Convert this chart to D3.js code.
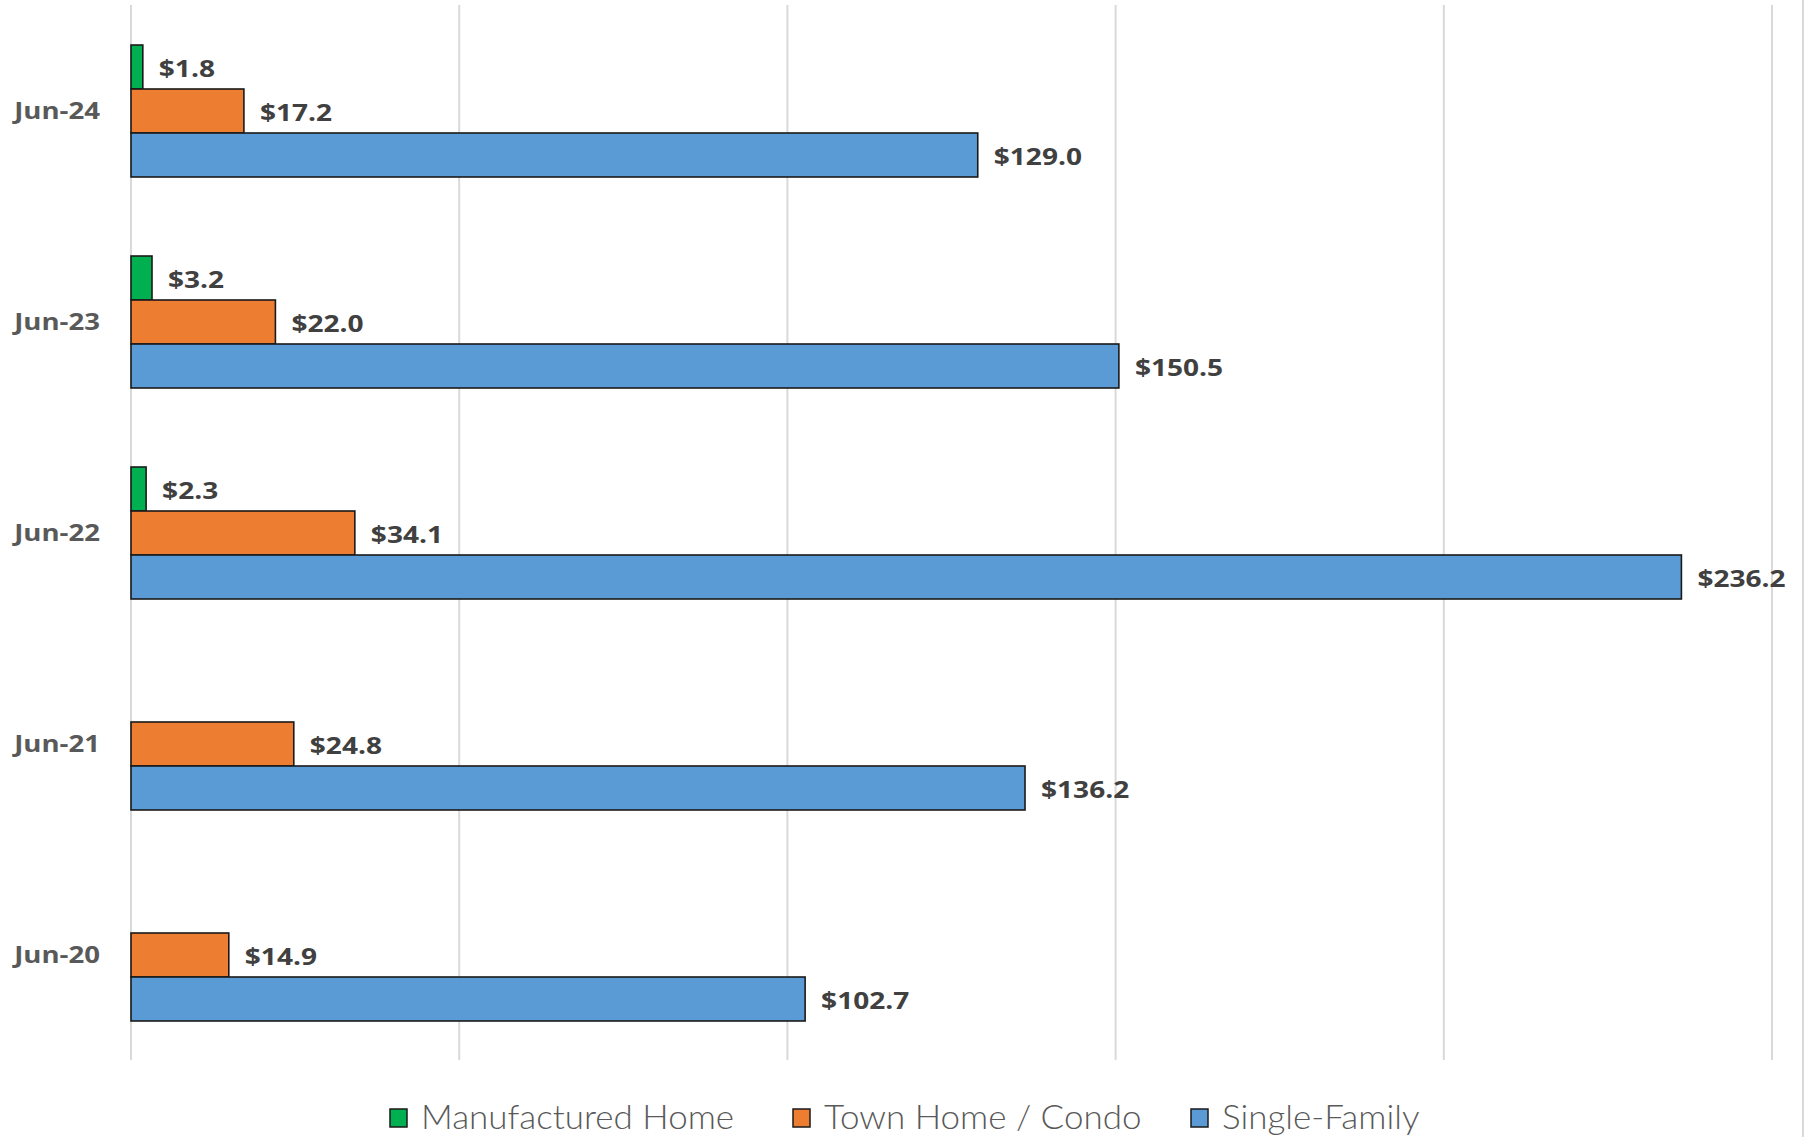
<!DOCTYPE html>
<html>
<head>
<meta charset="utf-8">
<script src="https://cdn.jsdelivr.net/npm/d3@7"></script>
<style>
  html, body { margin: 0; padding: 0; background: #fff; }
  svg { display: block; }
</style>
</head>
<body>
<svg id="chart" width="1808" height="1137"></svg>
<script>
// categories top to bottom
var categories = ["Jun-24", "Jun-23", "Jun-22", "Jun-21", "Jun-20"];
var seriesNames = ["Manufactured Home", "Town Home / Condo", "Single-Family"];
var seriesColors = ["#00b050", "#ed7d31", "#5b9bd5"];
var manufacturedHome = [1.8, 3.2, 2.3, null, null];
var townHomeCondo = [17.2, 22.0, 34.1, 24.8, 14.9];
var singleFamily = [129.0, 150.5, 236.2, 136.2, 102.7];
var xTicks = [0, 50, 100, 150, 200, 250];

var seriesValues = [manufacturedHome, townHomeCondo, singleFamily];

var svg = d3.select("#chart");

var x = d3.scaleLinear().domain([0, 250]).range([131, 1772]);
var y = d3.scaleBand().domain(categories).range([5.5, 1060.5]).padding(0);
var ySub = d3.scaleBand().domain(seriesNames)
  .range([0, y.bandwidth()]).paddingInner(0).paddingOuter(0.898);

// gridlines
svg.append("g")
  .selectAll("line")
  .data(xTicks)
  .join("line")
  .attr("x1", d => x(d)).attr("x2", d => x(d))
  .attr("y1", 5).attr("y2", 1060)
  .style("stroke", "#d9d9d9")
  .style("stroke-width", 2);

// outer border on the right
svg.append("line")
  .attr("x1", 1803).attr("x2", 1803)
  .attr("y1", 0).attr("y2", 1137)
  .style("stroke", "#d9d9d9")
  .style("stroke-width", 2);

// category labels
svg.append("g")
  .selectAll("text")
  .data(categories)
  .join("text")
  .attr("transform", d => `translate(100, ${y(d) + y.bandwidth() / 2}) scale(1.15,1)`)
  .attr("dy", "0.35em")
  .style("text-anchor", "end")
  .style("font-family", "'Open Sans', sans-serif")
  .style("font-weight", 700)
  .style("font-size", "24px")
  .style("fill", "#595959")
  .text(d => d);

var rows = [];
seriesNames.forEach(function(name, si) {
  categories.forEach(function(cat, ci) {
    var v = seriesValues[si][ci];
    if (v !== null) rows.push({ series: name, color: seriesColors[si], cat: cat, value: v });
  });
});

// bars
svg.append("g")
  .selectAll("rect")
  .data(rows)
  .join("rect")
  .attr("x", x(0))
  .attr("y", d => y(d.cat) + ySub(d.series))
  .attr("width", d => x(d.value) - x(0))
  .attr("height", ySub.bandwidth())
  .style("fill", d => d.color)
  .style("stroke", "#1a1a1a")
  .style("stroke-width", 1.6);

// value labels
svg.append("g")
  .selectAll("text")
  .data(rows)
  .join("text")
  .attr("transform", d => `translate(${x(d.value) + 16}, ${y(d.cat) + ySub(d.series) + ySub.bandwidth() / 2 + 1.5}) scale(1.17,1)`)
  .attr("dy", "0.35em")
  .style("font-family", "'Open Sans', sans-serif")
  .style("font-weight", 700)
  .style("font-size", "24px")
  .style("fill", "#404040")
  .text(d => "$" + d3.format(".1f")(d.value));

// legend
var legendX = [390, 793, 1191];
var legend = svg.append("g")
  .selectAll("g")
  .data(seriesNames)
  .join("g")
  .attr("transform", (d, i) => `translate(${legendX[i]}, 1117)`);

legend.append("rect")
  .attr("x", 0).attr("y", -8)
  .attr("width", 17).attr("height", 18)
  .style("fill", (d, i) => seriesColors[i])
  .style("stroke", "#1a1a1a")
  .style("stroke-width", 1.5);

legend.append("text")
  .attr("transform", "translate(31, 0) scale(1.06,1)")
  .attr("dy", "0.36em")
  .style("font-family", "Lato, 'Open Sans', sans-serif")
  .style("font-weight", 300)
  .style("font-size", "33px")
  .style("fill", "#595959")
  .text(d => d);
</script>
</body>
</html>
